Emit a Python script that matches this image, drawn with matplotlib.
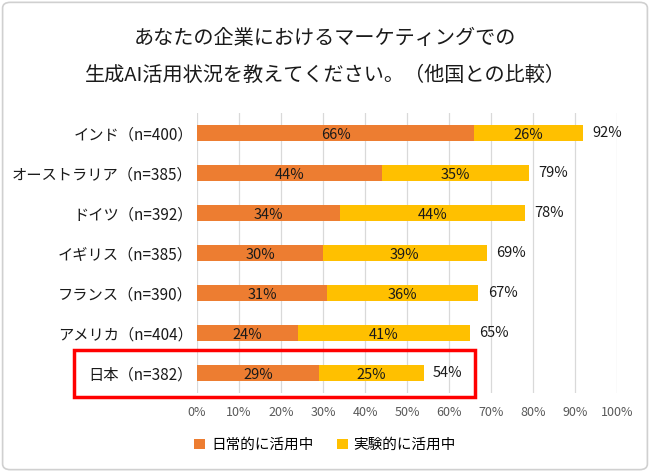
import numpy as np
import matplotlib
matplotlib.use("Agg")
import matplotlib.pyplot as plt
from matplotlib.patches import FancyBboxPatch, Rectangle

plt.rcParams['font.family'] = ['Noto Sans CJK JP', 'DejaVu Sans']

# ── data ────────────────────────────────────────────────────────────────────
countries = ["インド（n=400）", "オーストラリア（n=385）", "ドイツ（n=392）",
             "イギリス（n=385）", "フランス（n=390）", "アメリカ（n=404）",
             "日本（n=382）"]
daily = [66, 44, 34, 30, 31, 24, 29]
trial = [26, 35, 44, 39, 36, 41, 25]
totals = [92, 79, 78, 69, 67, 65, 54]
series_names = ["日常的に活用中", "実験的に活用中"]
xticks = [0, 10, 20, 30, 40, 50, 60, 70, 80, 90, 100]

c_daily = "#ED7D31"
c_trial = "#FFC000"

fig = plt.figure(figsize=(6.5, 4.72), dpi=100)
ax = fig.add_axes([197 / 650, 1 - 393 / 472, 420 / 650, 280 / 472])

y = np.arange(len(countries))
ax.barh(y, daily, height=0.4, color=c_daily, label=series_names[0], zorder=2)
ax.barh(y, trial, left=daily, height=0.4, color=c_trial, label=series_names[1], zorder=2)

lbl = dict(fontsize=10.5, color="#1a1a1a", zorder=3)
for i in range(len(countries)):
    ax.text(daily[i] / 2, y[i] + 0.04, f"{daily[i]}%", ha="center", va="center", **lbl)
    ax.text(daily[i] + trial[i] / 2, y[i] + 0.04, f"{trial[i]}%", ha="center", va="center", **lbl)
    ax.text(totals[i] + 2.2, y[i], f"{totals[i]}%", ha="left", va="center", **lbl)

ax.set_xlim(0, 100)
ax.set_ylim(len(countries) - 0.5, -0.5)
ax.set_xticks(xticks)
ax.set_xticklabels([f"{t}%" for t in xticks], fontsize=9, color="#595959")
ax.set_yticks(y)
ax.set_yticklabels(countries, fontsize=11, color="#1a1a1a")
ax.tick_params(axis="both", length=0)
ax.tick_params(axis="x", pad=9)
ax.tick_params(axis="y", pad=3)
ax.grid(axis="x", color="#d9d9d9", linewidth=0.9, zorder=0)
for s in ax.spines.values():
    s.set_visible(False)

fig.text(0.5, 1 - 38 / 472, "あなたの企業におけるマーケティングでの",
         ha="center", va="center", fontsize=14.5, color="#1a1a1a")
fig.text(0.5, 1 - 75 / 472, "生成AI活用状況を教えてください。（他国との比較）",
         ha="center", va="center", fontsize=14.5, color="#1a1a1a")

# red highlight around Japan row
fig.patches.append(Rectangle((74 / 650, 1 - 397 / 472), 401 / 650, 47 / 472,
                             transform=fig.transFigure, fill=False,
                             edgecolor="#ff0000", linewidth=2.5))

# outer border
fig.patches.append(FancyBboxPatch((0.004, 0.005), 0.992, 0.99,
                                  boxstyle="round,pad=0,rounding_size=0.012",
                                  transform=fig.transFigure, fill=False,
                                  edgecolor="#d0d0d0", linewidth=1.2))

fig.legend(loc="center", bbox_to_anchor=(0.5, 1 - 445 / 472), ncol=2,
           frameon=False, fontsize=10.5, handlelength=0.75, handleheight=0.75,
           columnspacing=1.6, handletextpad=0.4)

fig.savefig("out.png", dpi=100)
